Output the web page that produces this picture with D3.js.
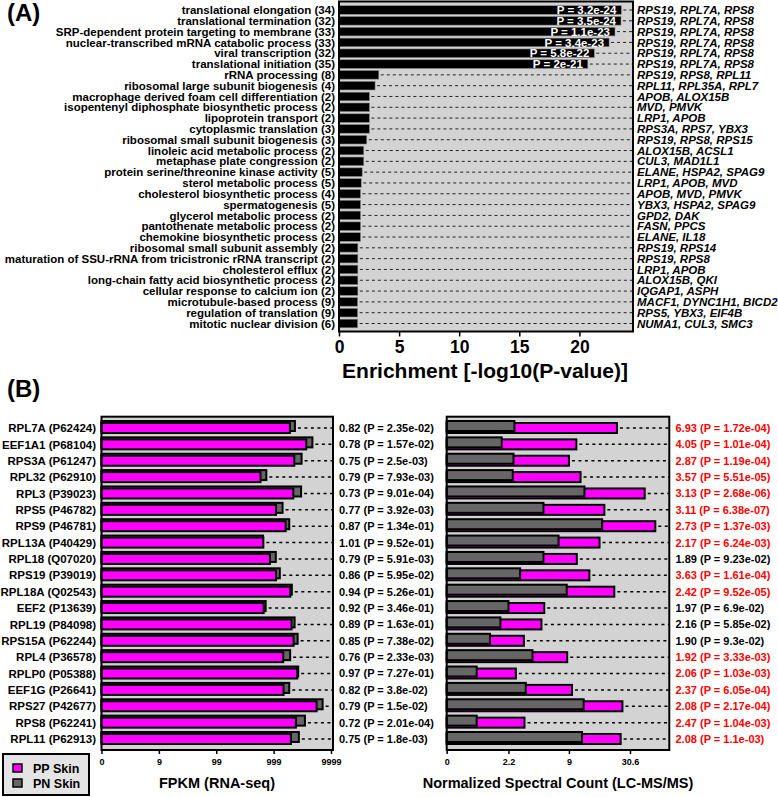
<!DOCTYPE html>
<html><head><meta charset="utf-8">
<script src="https://cdn.jsdelivr.net/npm/d3@7"></script>
<style>
body{margin:0;background:#fff}
svg{display:block;font-family:"Liberation Sans",Arial,Helvetica,sans-serif;font-weight:bold}
</style>
</head><body>
<svg id="c" width="778" height="797"></svg>
<script>
// ---------- Panel A data ----------
const goTerms = [
  "translational elongation","translational termination","SRP-dependent protein targeting to membrane",
  "nuclear-transcribed mRNA catabolic process","viral transcription","translational initiation",
  "rRNA processing","ribosomal large subunit biogenesis","macrophage derived foam cell differentiation",
  "isopentenyl diphosphate biosynthetic process","lipoprotein transport","cytoplasmic translation",
  "ribosomal small subunit biogenesis","linoleic acid metabolic process","metaphase plate congression",
  "protein serine/threonine kinase activity","sterol metabolic process","cholesterol biosynthetic process",
  "spermatogenesis","glycerol metabolic process","pantothenate metabolic process",
  "chemokine biosynthetic process","ribosomal small subunit assembly",
  "maturation of SSU-rRNA from tricistronic rRNA transcript","cholesterol efflux",
  "long-chain fatty acid biosynthetic process","cellular response to calcium ion",
  "microtubule-based process","regulation of translation","mitotic nuclear division"
];
const goCounts = [34,32,33,33,32,35,8,4,2,2,2,3,3,2,2,5,5,4,5,2,2,2,2,2,2,2,2,9,9,6];
const goEnrichment = [23.49,23.46,22.96,22.47,21.24,20.70,3.31,3.0,2.53,2.53,2.53,2.53,2.31,2.06,2.06,
  1.93,1.85,1.79,1.79,1.79,1.79,1.79,1.57,1.57,1.57,1.57,1.57,1.55,1.55,1.55];
const goPLabels = ["3.2e-24","3.5e-24","1.1e-23","3.4e-23","5.8e-22","2e-21"];
const goGenes = [
  "RPS19, RPL7A, RPS8","RPS19, RPL7A, RPS8","RPS19, RPL7A, RPS8","RPS19, RPL7A, RPS8",
  "RPS19, RPL7A, RPS8","RPS19, RPL7A, RPS8","RPS19, RPS8, RPL11","RPL11, RPL35A, RPL7",
  "APOB, ALOX15B","MVD, PMVK","LRP1, APOB","RPS3A, RPS7, YBX3","RPS19, RPS8, RPS15",
  "ALOX15B, ACSL1","CUL3, MAD1L1","ELANE, HSPA2, SPAG9","LRP1, APOB, MVD","APOB, MVD, PMVK",
  "YBX3, HSPA2, SPAG9","GPD2, DAK","FASN, PPCS","ELANE, IL18","RPS19, RPS14","RPS19, RPS8",
  "LRP1, APOB","ALOX15B, QKI","IQGAP1, ASPH","MACF1, DYNC1H1, BICD2","RPS5, YBX3, EIF4B",
  "NUMA1, CUL3, SMC3"
];
const enrichTicks = [0,5,10,15,20];

// ---------- Panel B data ----------
const geneNames = ["RPL7A","EEF1A1","RPS3A","RPL32","RPL3","RPS5","RPS9","RPL13A","RPL18","RPS19",
  "RPL18A","EEF2","RPL19","RPS15A","RPL4","RPLP0","EEF1G","RPS27","RPS8","RPL11"];
const uniprotIds = ["P62424","P68104","P61247","P62910","P39023","P46782","P46781","P40429","Q07020","P39019",
  "Q02543","P13639","P84098","P62244","P36578","P05388","P26641","P42677","P62241","P62913"];
const rnaPP = [1920,3700,2290,590,2200,1100,1620,660,860,1100,1950,670,2050,2230,1470,2580,1490,5610,2440,2000];
const rnaPN = [2350,4740,3070,745,3010,1430,1870,653,1090,1280,2075,725,2320,2620,1940,2680,1870,7140,3510,2750];
const rnaFold = ["0.82","0.78","0.75","0.79","0.73","0.77","0.87","1.01","0.79","0.86","0.94","0.92","0.89","0.85","0.76","0.97","0.82","0.79","0.72","0.75"];
const rnaP = ["2.35e-02","1.57e-02","2.5e-03","7.93e-03","9.01e-04","3.92e-03","1.34e-01","9.52e-01","5.91e-03","5.95e-02",
  "5.26e-01","3.46e-01","1.63e-01","7.38e-02","2.33e-03","7.27e-01","3.8e-02","1.5e-02","2.01e-04","1.8e-03"];
const msPP = [23.7,10.5,9.0,11.45,40.7,18.5,49.9,16.8,10.6,13.7,22.5,5.28,4.96,3.28,8.68,2.68,9.6,26.4,3.33,25.5];
const msPN = [2.58,1.82,2.52,2.47,12.4,5.19,17.7,7.22,5.19,2.99,8.6,2.2,1.75,1.26,4.03,0.76,3.44,12.2,0.76,11.8];
const msFold = ["6.93","4.05","2.87","3.57","3.13","3.11","2.73","2.17","1.89","3.63","2.42","1.97","2.16","1.90","1.92","2.06","2.37","2.08","2.47","2.08"];
const msP = ["1.72e-04","1.01e-04","1.19e-04","5.51e-05","2.68e-06","6.38e-07","1.37e-03","6.24e-03","9.23e-02","1.61e-04",
  "9.52e-05","6.9e-02","5.85e-02","9.3e-02","3.33e-03","1.03e-03","6.05e-04","2.17e-04","1.04e-03","1.1e-03"];
const rnaTicks = [0,9,99,999,9999];
const msTicks = [0,2.2,9,30.6];
const seriesNames = ["PP Skin","PN Skin"];

const BG = "#d3d3d3", MAG = "#ff00ff", GRY = "#666666";
const svg = d3.select("#c");

// ================= Panel A =================
const ax = d3.scaleLinear().domain([0, 24.46]).range([339, 633]);
const ay = d3.scalePoint().domain(d3.range(goTerms.length)).range([10, 323.5]);
const gA = svg.append("g");
gA.append("rect").attr("x",339).attr("y",1.5).attr("width",294).attr("height",330).attr("fill",BG);
gA.selectAll("line.dash").data(goEnrichment).join("line").attr("class","dash")
  .attr("x1",d=>ax(d)+2).attr("x2",632).attr("y1",(d,i)=>ay(i)).attr("y2",(d,i)=>ay(i))
  .attr("stroke","#222").attr("stroke-width",1).attr("stroke-dasharray","3,3");
gA.selectAll("rect.bar").data(goEnrichment).join("rect").attr("class","bar")
  .attr("x",ax(0)).attr("y",(d,i)=>ay(i)-4.3).attr("width",d=>ax(d)-ax(0)).attr("height",8.6)
  .attr("fill","#000").attr("stroke","#888").attr("stroke-width",0.6);
gA.selectAll("text.pl").data(goPLabels).join("text").attr("class","pl")
  .attr("x",(d,i)=>ax(goEnrichment[i])-5).attr("y",(d,i)=>ay(i)).attr("dy","0.36em")
  .attr("text-anchor","end").attr("fill","#fff").attr("font-size",11.5).text(d=>"P = "+d);
gA.append("rect").attr("x",339).attr("y",1.5).attr("width",294).attr("height",330)
  .attr("fill","none").attr("stroke","#000").attr("stroke-width",2);
gA.selectAll("text.term").data(goTerms).join("text").attr("class","term")
  .attr("x",335).attr("y",(d,i)=>ay(i)).attr("dy","0.36em").attr("text-anchor","end")
  .attr("font-size",11.5).text((d,i)=>d+" ("+goCounts[i]+")");
gA.selectAll("text.gene").data(goGenes).join("text").attr("class","gene")
  .attr("x",637).attr("y",(d,i)=>ay(i)).attr("dy","0.36em").attr("font-style","italic")
  .attr("font-size",11.5).text(d=>d);
const axA = gA.append("g").attr("transform","translate(0,331.5)")
  .call(d3.axisBottom(ax).tickValues(enrichTicks).tickSize(5).tickPadding(4).tickFormat(d3.format("d")));
axA.select(".domain").remove();
axA.selectAll("line").attr("stroke","#000").attr("stroke-width",1.5);
axA.selectAll("text").attr("font-size",17.5).attr("font-family","inherit").attr("font-weight","bold").attr("fill","#000");
gA.append("text").attr("x",485).attr("y",378).attr("text-anchor","middle").attr("font-size",21)
  .text("Enrichment [-log10(P-value)]");
svg.append("text").attr("x",7).attr("y",21).attr("font-size",24).text("(A)");

// ================= Panel B =================
svg.append("text").attr("x",7).attr("y",397).attr("font-size",24).text("(B)");
const by = d3.scalePoint().domain(d3.range(geneNames.length)).range([428, 739]);
const pTop = 416.7, pBot = 750;

function panel(x, x0, x1, pp, pn, ppFirst, ticks, title, titleX){
  const g = svg.append("g");
  g.append("rect").attr("x",x0).attr("y",pTop).attr("width",x1-x0).attr("height",pBot-pTop).attr("fill",BG);
  g.selectAll("line.dash").data(pp).join("line").attr("class","dash")
    .attr("x1",(d,i)=>x(Math.max(d,pn[i]))+3).attr("x2",x1).attr("y1",(d,i)=>by(i)).attr("y2",(d,i)=>by(i))
    .attr("stroke","#000").attr("stroke-width",1.5).attr("stroke-dasharray","3,3.5");
  const drawPP = () => g.selectAll("rect.pp").data(pp).join("rect").attr("class","pp")
    .attr("x",x(0)).attr("y",(d,i)=>by(i)-5).attr("width",d=>x(d)-x(0)).attr("height",10)
    .attr("fill",MAG).attr("stroke","#000").attr("stroke-width",2);
  const drawPN = () => g.selectAll("rect.pn").data(pn).join("rect").attr("class","pn")
    .attr("x",x(0)).attr("y",(d,i)=>by(i)-7).attr("width",d=>x(d)-x(0)).attr("height",10)
    .attr("fill",GRY).attr("stroke","#000").attr("stroke-width",2);
  if (ppFirst) { drawPP(); drawPN(); } else { drawPN(); drawPP(); }
  g.append("rect").attr("x",x0).attr("y",pTop).attr("width",x1-x0).attr("height",pBot-pTop)
    .attr("fill","none").attr("stroke","#000").attr("stroke-width",2);
  const a = g.append("g").attr("transform",`translate(0,${pBot})`)
    .call(d3.axisBottom(x).tickValues(ticks).tickSize(4).tickPadding(5).tickFormat(d=>String(d)));
  a.select(".domain").remove();
  a.selectAll("line").attr("stroke","#000").attr("stroke-width",1.5);
  a.selectAll("text").attr("font-size",9).attr("font-family","inherit").attr("font-weight","bold").attr("fill","#000");
  g.append("text").attr("x",titleX).attr("y",788).attr("text-anchor","middle").attr("font-size",14.5).text(title);
}
const bx1 = d3.scaleSymlog().constant(1).domain([0, 9999]).range([101.5, 331]);
const bx2 = d3.scaleSymlog().constant(1).domain([0, 30.6]).range([446.7, 630]);
panel(bx1, 101.5, 333, rnaPP, rnaPN, false, rnaTicks, "FPKM (RNA-seq)", 217);
panel(bx2, 446.7, 669.3, msPP, msPN, true, msTicks, "Normalized Spectral Count (LC-MS/MS)", 558);

svg.selectAll("text.prot").data(geneNames).join("text").attr("class","prot")
  .attr("x",96).attr("y",(d,i)=>by(i)).attr("dy","0.36em").attr("text-anchor","end")
  .attr("font-size",11.5).text((d,i)=>d+" ("+uniprotIds[i]+")");
svg.selectAll("text.rna").data(rnaFold).join("text").attr("class","rna")
  .attr("x",339).attr("y",(d,i)=>by(i)).attr("dy","0.36em").attr("font-size",11)
  .text((d,i)=>d+" (P = "+rnaP[i]+")");
svg.selectAll("text.ms").data(msFold).join("text").attr("class","ms")
  .attr("x",675.5).attr("y",(d,i)=>by(i)).attr("dy","0.36em").attr("font-size",11)
  .attr("fill",(d,i)=>(+msP[i] < 0.05 ? "#ff0000" : "#000"))
  .text((d,i)=>d+" (P = "+msP[i]+")");

// legend
const lg = svg.append("g");
lg.append("rect").attr("x",3).attr("y",754).attr("width",86).attr("height",41)
  .attr("fill","#e4e4e4").attr("stroke","#000").attr("stroke-width",2);
const legY = d3.scalePoint().domain(seriesNames).range([768, 783]);
lg.selectAll("rect.sw").data(seriesNames).join("rect").attr("class","sw")
  .attr("x",13).attr("y",d=>legY(d)-4).attr("width",9).attr("height",8)
  .attr("fill",(d,i)=>i===0?MAG:GRY).attr("stroke","#000").attr("stroke-width",1.5);
lg.selectAll("text.lt").data(seriesNames).join("text").attr("class","lt")
  .attr("x",33).attr("y",d=>legY(d)).attr("dy","0.36em").attr("font-size",12.5).text(d=>d);
</script>
</body></html>
